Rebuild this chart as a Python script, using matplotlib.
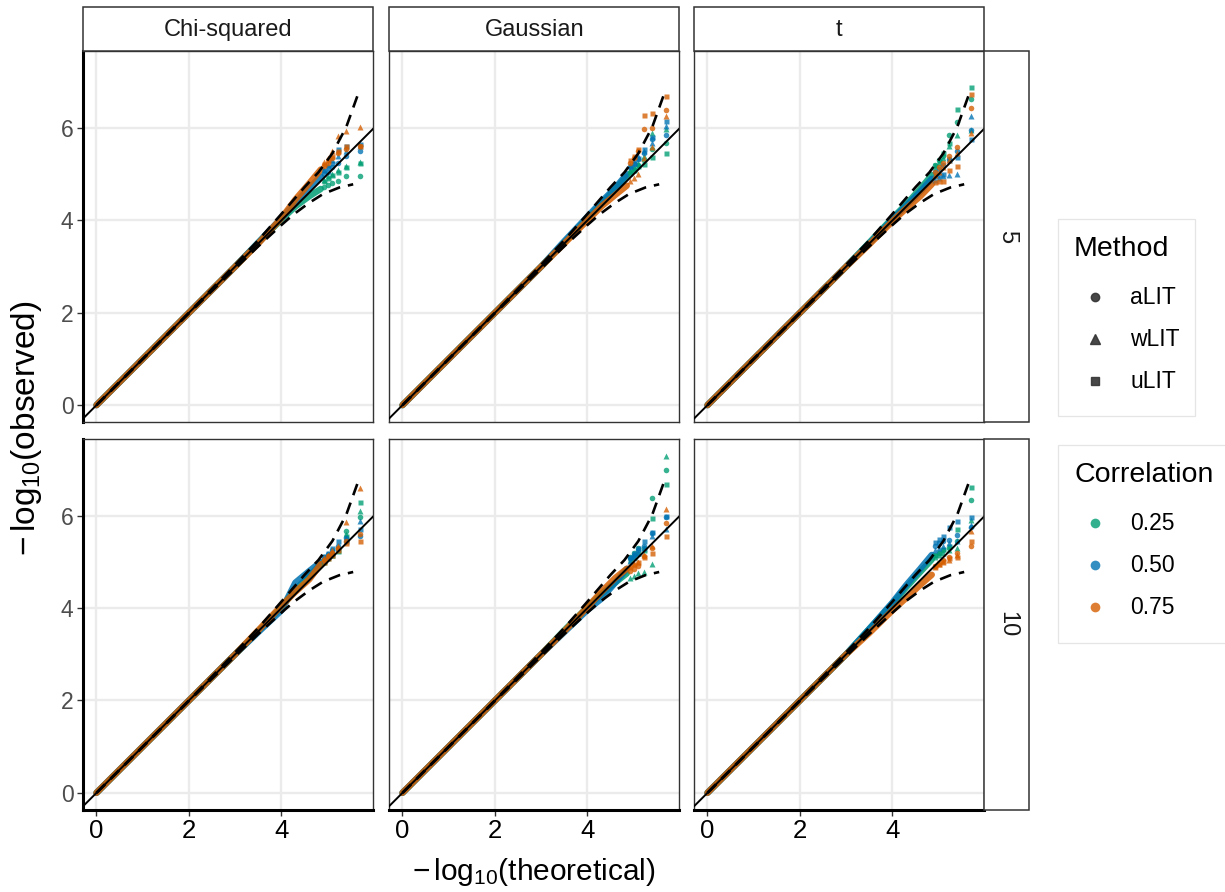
import matplotlib
matplotlib.use("Agg")
import matplotlib.pyplot as plt
from matplotlib import font_manager
from matplotlib.patches import Rectangle

# ---------------- fonts ----------------
available = {f.name for f in font_manager.fontManager.ttflist}
BASE = "Liberation Sans" if "Liberation Sans" in available else "DejaVu Sans"
NARROW = "Liberation Sans Narrow" if "Liberation Sans Narrow" in available else BASE
plt.rcParams['font.family'] = [BASE, 'DejaVu Sans']
plt.rcParams['mathtext.fontset'] = 'custom'
plt.rcParams['mathtext.rm'] = NARROW
plt.rcParams['mathtext.it'] = NARROW + ':italic'
plt.rcParams['mathtext.sf'] = NARROW

# ---------------- data ----------------
distributions = ["Chi-squared", "Gaussian", "t"]
dfs = ["5", "10"]
methods = ["aLIT", "wLIT", "uLIT"]
correlations = ["0.25", "0.50", "0.75"]

# theoretical -log10 p of the largest order statistics (ranks 1..6)
tail_x = [5.70, 5.40, 5.22, 5.10, 5.00, 4.92]
# knots of the dense bulk of points along the diagonal
bulk_x = [0.0, 3.0, 3.5, 4.0, 4.3, 4.6, 4.85]

# 95% confidence band (dashed)
upper_x = [0.0, 2.0, 3.0, 3.5, 4.0, 4.5, 4.8, 5.1, 5.4, 5.68]
upper_y = [0.0, 2.0, 3.04, 3.57, 4.14, 4.72, 5.04, 5.45, 6.02, 6.80]
lower_x = [0.0, 2.0, 3.0, 3.5, 4.0, 4.25, 4.6, 4.9, 5.25, 5.55]
lower_y = [0.0, 1.99, 2.96, 3.44, 3.90, 4.12, 4.38, 4.57, 4.71, 4.78]

# bulk (rows: corr 0.25, 0.50, 0.75) at bulk_x
bulk_chisq_5 = [[0, 3.0, 3.52, 4.02, 4.30, 4.52, 4.68],
                [0, 3.0, 3.52, 4.05, 4.38, 4.70, 4.95],
                [0, 3.0, 3.50, 4.05, 4.45, 4.80, 5.10]]
bulk_gauss_5 = [[0, 3.0, 3.52, 4.05, 4.35, 4.68, 4.95],
                [0, 3.0, 3.55, 4.08, 4.40, 4.70, 5.00],
                [0, 3.0, 3.50, 4.00, 4.30, 4.55, 4.75]]
bulk_t_5 = [[0, 3.0, 3.52, 4.05, 4.35, 4.68, 4.98],
            [0, 3.0, 3.50, 4.02, 4.32, 4.62, 4.90],
            [0, 3.0, 3.48, 3.98, 4.26, 4.52, 4.78]]
bulk_chisq_10 = [[0, 3.0, 3.50, 4.02, 4.40, 4.70, 4.95],
                 [0, 3.0, 3.48, 3.95, 4.55, 4.80, 5.00],
                 [0, 3.0, 3.52, 4.05, 4.35, 4.62, 4.95]]
bulk_gauss_10 = [[0, 3.0, 3.52, 4.02, 4.30, 4.55, 4.75],
                 [0, 3.0, 3.48, 3.96, 4.20, 4.55, 4.85],
                 [0, 3.0, 3.50, 4.02, 4.35, 4.65, 4.85]]
bulk_t_10 = [[0, 3.0, 3.55, 4.10, 4.45, 4.78, 5.05],
             [0, 3.0, 3.55, 4.12, 4.50, 4.85, 5.15],
             [0, 3.0, 3.46, 3.95, 4.22, 4.50, 4.72]]

# tails (rows: corr x method -> 0.25 aLIT, 0.25 wLIT, 0.25 uLIT, 0.50 ..., 0.75 ...) at tail_x
tail_chisq_5 = [[4.96, 4.96, 4.86, 4.80, 4.76, 4.72],
                [5.27, 5.18, 5.10, 5.00, 4.95, 4.88],
                [5.25, 5.15, 5.05, 4.98, 4.92, 4.86],
                [5.50, 5.40, 5.25, 5.15, 5.05, 5.00],
                [5.60, 5.50, 5.40, 5.30, 5.20, 5.10],
                [5.65, 5.61, 5.54, 5.25, 5.15, 5.08],
                [5.60, 5.54, 5.45, 5.35, 5.25, 5.18],
                [6.01, 5.94, 5.83, 5.50, 5.35, 5.26],
                [5.61, 5.60, 5.50, 5.40, 5.30, 5.22]]
tail_gauss_5 = [[5.68, 5.55, 5.30, 5.20, 5.12, 5.05],
                [5.97, 5.90, 5.40, 5.25, 5.15, 5.08],
                [5.45, 5.36, 5.22, 5.18, 5.10, 5.02],
                [5.84, 5.76, 5.45, 5.32, 5.22, 5.15],
                [6.05, 5.68, 5.50, 5.40, 5.30, 5.20],
                [6.15, 5.80, 5.55, 5.35, 5.25, 5.18],
                [6.38, 6.00, 5.97, 5.50, 5.35, 5.25],
                [6.26, 5.58, 5.35, 5.00, 4.92, 4.85],
                [6.69, 6.33, 6.27, 5.54, 5.40, 5.30]]
tail_t_5 = [[6.62, 6.13, 5.84, 5.40, 5.30, 5.20],
            [5.96, 5.84, 5.60, 5.35, 5.25, 5.15],
            [6.89, 6.42, 5.68, 5.45, 5.30, 5.20],
            [5.96, 5.50, 5.32, 5.20, 5.12, 5.05],
            [6.26, 5.00, 4.98, 4.95, 4.92, 4.88],
            [5.77, 5.36, 5.30, 5.00, 4.98, 4.95],
            [6.44, 5.58, 5.40, 5.25, 5.15, 5.05],
            [5.90, 5.45, 5.30, 5.15, 5.05, 4.98],
            [6.74, 5.18, 5.10, 4.86, 4.85, 4.82]]
tail_chisq_10 = [[5.98, 5.66, 5.30, 5.20, 5.12, 5.05],
                 [6.10, 5.60, 5.25, 5.15, 5.08, 5.00],
                 [6.29, 5.55, 5.23, 5.15, 5.10, 5.02],
                 [5.55, 5.52, 5.34, 5.25, 5.18, 5.10],
                 [5.88, 5.50, 5.30, 5.20, 5.12, 5.05],
                 [5.70, 5.45, 5.44, 5.30, 5.20, 5.12],
                 [5.60, 5.45, 5.30, 5.20, 5.12, 5.05],
                 [6.60, 5.86, 5.35, 5.25, 5.15, 5.08],
                 [5.44, 5.40, 5.25, 5.15, 5.08, 5.00]]
tail_gauss_10 = [[6.99, 6.38, 5.30, 5.30, 5.20, 5.10],
                 [7.30, 4.96, 4.79, 4.75, 4.70, 4.65],
                 [6.68, 5.95, 5.25, 5.20, 5.10, 5.05],
                 [5.98, 5.62, 5.35, 5.25, 5.15, 5.08],
                 [5.70, 5.55, 5.30, 5.20, 5.10, 5.02],
                 [6.00, 5.65, 5.44, 5.30, 5.20, 5.10],
                 [5.84, 5.30, 5.12, 4.90, 4.85, 4.80],
                 [6.15, 5.35, 5.15, 5.00, 4.95, 4.88],
                 [5.55, 5.19, 5.10, 5.00, 4.95, 4.90]]
tail_t_10 = [[6.33, 5.45, 5.30, 5.25, 5.20, 5.15],
             [5.90, 5.30, 5.25, 5.20, 5.15, 5.10],
             [6.63, 5.70, 5.35, 5.28, 5.22, 5.15],
             [5.75, 5.57, 5.48, 5.45, 5.40, 5.35],
             [5.80, 5.45, 5.40, 5.35, 5.30, 5.25],
             [5.97, 5.88, 5.75, 5.55, 5.50, 5.42],
             [5.34, 5.20, 5.10, 5.05, 4.98, 4.90],
             [5.67, 5.15, 5.05, 5.00, 4.95, 4.88],
             [5.46, 5.10, 5.08, 5.02, 4.96, 4.90]]

bulk_data = {("Chi-squared", "5"): bulk_chisq_5, ("Gaussian", "5"): bulk_gauss_5, ("t", "5"): bulk_t_5,
             ("Chi-squared", "10"): bulk_chisq_10, ("Gaussian", "10"): bulk_gauss_10, ("t", "10"): bulk_t_10}
tail_data = {("Chi-squared", "5"): tail_chisq_5, ("Gaussian", "5"): tail_gauss_5, ("t", "5"): tail_t_5,
             ("Chi-squared", "10"): tail_chisq_10, ("Gaussian", "10"): tail_gauss_10, ("t", "10"): tail_t_10}

# ---------------- style ----------------
corr_colors = ["#009E73", "#0072B2", "#D55E00"]
method_markers = ["o", "^", "s"]
method_sizes = [4.0, 4.6, 3.6]
PT_ALPHA = 0.78

W, H = 1225, 892
fig = plt.figure(figsize=(W / 100, H / 100), dpi=100)

col_left = [83.3, 389.3, 694.3]
col_w = 290.0
row_top = [51.0, 438.7]
row_h = 371.0
strip_top, strip_h = 7.0, 44.0
rstrip_left, rstrip_w = 984.3, 45.0

def fig_rect(l, t, w, h):
    return [l / W, 1 - (t + h) / H, w / W, h / H]

XLIM = (-0.285, 5.985)
YLIM = (-0.365, 7.665)

for r, df in enumerate(dfs):
    for c, dist in enumerate(distributions):
        ax = fig.add_axes(fig_rect(col_left[c], row_top[r], col_w, row_h))
        ax.set_xlim(*XLIM)
        ax.set_ylim(*YLIM)
        ax.set_xticks([0, 2, 4])
        ax.set_yticks([0, 2, 4, 6])
        ax.grid(True, color="#EBEBEB", lw=1.7, zorder=0)
        ax.set_axisbelow(True)
        for s in ax.spines.values():
            s.set_color("#333333")
            s.set_linewidth(1.0)
        if c == 0:
            ax.spines["left"].set_color("black")
            ax.spines["left"].set_linewidth(2.2)
        if r == 1:
            ax.spines["bottom"].set_color("black")
            ax.spines["bottom"].set_linewidth(2.2)
        ax.tick_params(axis="y", length=4 if c == 0 else 0, width=1.0, color="#333333",
                       labelsize=16.5, labelcolor="#4D4D4D", pad=3, labelleft=(c == 0))
        ax.tick_params(axis="x", length=4 if r == 1 else 0, width=1.0, color="#333333",
                       labelsize=18.5, labelcolor="black", pad=3, labelbottom=(r == 1))
        if r == 1:
            for lab in ax.get_xticklabels():
                lab.set_family(NARROW)

        bulk = bulk_data[(dist, df)]
        for k in range(3):
            ax.plot(bulk_x, bulk[k], color=corr_colors[k], lw=4.6, alpha=0.85,
                    solid_capstyle="round", zorder=2)
        tails = tail_data[(dist, df)]
        for k in range(3):
            for m in range(3):
                ax.plot(tail_x, tails[3 * k + m], linestyle="none", marker=method_markers[m],
                        ms=method_sizes[m], mfc=corr_colors[k], mec="none", alpha=PT_ALPHA, zorder=3)

        ax.axline((0, 0), slope=1, color="black", lw=1.4, zorder=4)
        ax.plot(upper_x, upper_y, color="black", lw=1.9, dashes=(4.5, 3), zorder=5)
        ax.plot(lower_x, lower_y, color="black", lw=1.9, dashes=(4.5, 3), zorder=5)

# ---------------- overlay (strips, titles, legends) ----------------
ov = fig.add_axes([0, 0, 1, 1], zorder=10)
ov.set_xlim(0, W)
ov.set_ylim(H, 0)
ov.axis("off")
ov.patch.set_alpha(0)

for c, dist in enumerate(distributions):
    ov.add_patch(Rectangle((col_left[c], strip_top), col_w, strip_h, fc="white", ec="#333333", lw=1.1))
    ov.text(col_left[c] + col_w / 2, strip_top + strip_h / 2 + 1, dist, ha="center", va="center",
            fontsize=17, color="#1A1A1A")
for r, df in enumerate(dfs):
    ov.add_patch(Rectangle((rstrip_left, row_top[r]), rstrip_w, row_h, fc="white", ec="#333333", lw=1.1))
    ov.text(rstrip_left + rstrip_w / 2, row_top[r] + row_h / 2, df, ha="center", va="center",
            rotation=270, fontsize=17, color="#1A1A1A")

ov.text(534, 872, r"$-\,\mathrm{log}_{10}(\mathrm{theoretical})$", ha="center", va="center",
        fontsize=21.5, color="black")
ov.text(27, 428, r"$-\,\mathrm{log}_{10}(\mathrm{observed})$", ha="center", va="center",
        rotation=90, fontsize=24, color="black")

# Method legend
ov.add_patch(Rectangle((1058, 219), 137, 197, fc="white", ec="#E5E5E5", lw=0.9))
ov.text(1074, 249, "Method", ha="left", va="center", fontsize=20.5, color="black")
leg_y = [297, 339, 381]
for m, name in enumerate(methods):
    ov.plot([1095], [leg_y[m]], marker=method_markers[m], ms=[6.0, 7.5, 5.6][m],
            color="#333333", linestyle="none", alpha=0.9)
    ov.text(1130, leg_y[m], name, ha="left", va="center", fontsize=16.5, color="black")

# Correlation legend
ov.add_patch(Rectangle((1058, 445), 170, 198, fc="white", ec="#E5E5E5", lw=0.9))
ov.text(1074, 475, "Correlation", ha="left", va="center", fontsize=20.5, color="black")
leg_y2 = [523, 565, 607]
for k, name in enumerate(correlations):
    ov.plot([1095], [leg_y2[k]], marker="o", ms=7.0, color=corr_colors[k], mec="none",
            linestyle="none", alpha=0.8)
    ov.text(1130, leg_y2[k], name, ha="left", va="center", fontsize=16.5, color="black")

fig.savefig("out.png", dpi=100)
